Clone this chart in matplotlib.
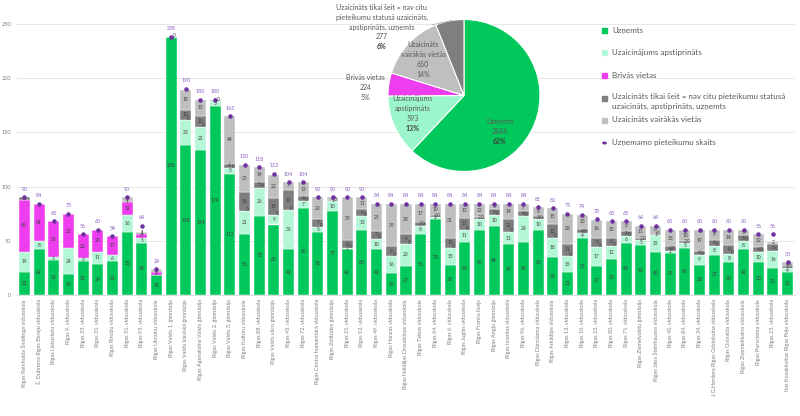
import matplotlib.pyplot as plt
import numpy as np

plt.rcParams['font.family'] = ['Lato', 'DejaVu Sans']

# ---------------- data ----------------
schools = [
    'Rīgas Reinholda Šmēlinga vidusskola', 'Š. Dubnova Rīgas Ebreju vidusskola',
    'Rīgas Lietuviešu vidusskola', 'Rīgas 9. vidusskola', 'Rīgas 33. vidusskola',
    'Rīgas 31. vidusskola', 'Rīgas Rīnūžu vidusskola', 'Rīgas 51. vidusskola',
    'Rīgas 95. vidusskola', 'Rīgas Ukraiņu vidusskola', 'Rīgas Valsts 1. ģimnāzija',
    'Rīgas Valsts klasiskā ģimnāzija', 'Rīgas Āgenskalna Valsts ģimnāzija',
    'Rīgas Valsts 2. ģimnāzija', 'Rīgas Valsts 3. ģimnāzija', 'Rīgas Kultūru vidusskola',
    'Rīgas 88. vidusskola', 'Rīgas Valsts vācu ģimnāzija', 'Rīgas 45. vidusskola',
    'Rīgas 72. vidusskola', 'Rīgas Centra humanitārā vidusskola', 'Rīgas Zolitūdes ģimnāzija',
    'Rīgas 21. vidusskola', 'Rīgas 92. vidusskola', 'Rīgas 49. vidusskola',
    'Rīgas Hanzas vidusskola', 'Rīgas Natālijas Draudziņas vidusskola',
    'Rīgas Teikas vidusskola', 'Rīgas 64. vidusskola', 'Rīgas 6. vidusskola',
    'Rīgas Juglas vidusskola', 'Rīgas Franču licejs', 'Rīgas Angļu ģimnāzija',
    'Rīgas Imantas vidusskola', 'Rīgas 96. vidusskola', 'Rīgas Dārzciema vidusskola',
    'Rīgas Arkādijas vidusskola', 'Rīgas 13. vidusskola', 'Rīgas 10. vidusskola',
    'Rīgas 22. vidusskola', 'Rīgas 80. vidusskola', 'Rīgas 71. vidusskola',
    'Rīgas Ziemeļvalstu ģimnāzija', 'Rīgas Jāņa Šteinhauera vidusskola',
    'Rīgas 40. vidusskola', 'Rīgas 84. vidusskola', 'Rīgas 34. vidusskola',
    'J.G.Herdera Rīgas Grīziņkalna vidusskola', 'Rīgas Ostvalda vidusskola',
    'Rīgas Ziepniekkalna vidusskola', 'Rīgas Purvciema vidusskola',
    'Rīgas 25. vidusskola', 'Itas Kozakēvičas Rīgas Poļu vidusskola',
]
uznemts = [21, 42, 32, 19, 31, 29, 31, 58, 48, 18, 238, 138, 134, 174, 112, 56, 73, 65,
           42, 80, 58, 77, 42, 60, 42, 20, 27, 56, 70, 28, 49, 60, 64, 47, 49, 60, 35,
           21, 53, 27, 33, 48, 46, 40, 39, 43, 28, 37, 30, 42, 30, 25, 21]
apstiprinats = [19, 8, 3, 24, 3, 11, 6, 16, 5, 0, 0, 23, 21, 5, 5, 21, 26, 9, 36, 7, 5,
                10, 1, 13, 10, 16, 20, 8, 2, 15, 11, 10, 10, 11, 24, 10, 18, 15, 4, 17,
                12, 6, 5, 15, 2, 5, 9, 8, 8, 8, 10, 16, 4]
brivas = [48, 34, 33, 32, 22, 20, 17, 12, 3, 3, 0, 0, 0, 0, 0, 0, 0, 0, 0, 0, 0, 0, 0,
          0, 0, 0, 0, 0, 0, 0, 0, 0, 0, 0, 0, 0, 0, 0, 0, 0, 0, 0, 0, 0, 0, 0, 0, 0, 0,
          0, 0, 0, 0]
tikai_seit = [2, 0, 0, 0, 0, 0, 0, 1, 1, 1, 0, 10, 10, 1, 4, 18, 5, 15, 19, 4, 7, 1, 8,
              6, 7, 9, 9, 3, 2, 10, 11, 2, 5, 12, 4, 3, 12, 11, 4, 9, 8, 5, 2, 1, 4, 2,
              4, 6, 8, 5, 4, 6, 2]
vairakas = [0, 0, 0, 0, 0, 0, 0, 3, 1, 2, 0, 18, 15, 0, 44, 25, 14, 22, 7, 13, 20, 2,
            39, 11, 25, 39, 28, 17, 10, 31, 13, 12, 5, 14, 7, 8, 15, 28, 13, 16, 15, 9,
            11, 8, 15, 10, 19, 9, 14, 5, 12, 2, 3]
skaits = [90, 84, 68, 75, 56, 60, 54, 90, 64, 24, 238, 190, 180, 180, 165, 120, 118,
          112, 104, 104, 90, 90, 90, 90, 84, 84, 84, 84, 84, 84, 84, 84, 84, 84, 84, 81,
          80, 75, 74, 70, 68, 68, 64, 64, 60, 60, 60, 60, 60, 60, 56, 56, 30]

series_names = ['Uzņemts', 'Uzaicinājums apstiprināts', 'Brīvās vietas',
                'Uzaicināts tikai šeit = nav citu pieteikumu statusā\nuzaicināts, apstiprināts, uzņemts',
                'Uzaicināts vairākās vietās']
marker_name = 'Uzņemamo pieteikumu skaits'

pie_labels = ['Uzņemts', 'Uzaicinājums\napstiprināts', 'Brīvās vietas',
              'Uzaicināts\nvairākās vietās',
              'Uzaicināts tikai šeit = nav citu\npieteikumu statusā uzaicināts,\napstiprināts, uzņemts']
pie_values = [2844, 593, 224, 650, 277]
pie_pct = ['62%', '13%', '5%', '14%', '6%']

green = '#00C85A'
mint = '#B4F7D6'
mint_pie = '#9CF6CC'
magenta = '#EE3DEE'
dgrey = '#7F7F7F'
lgrey = '#BFBFBF'
purple = '#7030A0'
txt = '#595959'

fig = plt.figure(figsize=(8, 4.16), dpi=100)

# ---------------- stacked bars ----------------
ax = fig.add_axes([17 / 800, 121 / 416, 778 / 800, 282 / 416])
x = np.arange(len(schools))
bottom = np.zeros(len(schools))
series = [(uznemts, green), (apstiprinats, mint), (brivas, magenta),
          (tikai_seit, dgrey), (vairakas, lgrey)]
for vals, col in series:
    vals = np.array(vals)
    ax.bar(x, vals, 0.75, bottom=bottom, color=col, edgecolor='white', linewidth=0.3, zorder=2)
    for xi, v, b in zip(x, vals, bottom):
        if v > 0:
            ax.text(xi, b + v / 2, str(v), ha='center', va='center', fontsize=3.5,
                    color='#404040', zorder=4)
    bottom = bottom + vals

# zero labels of the "Brīvās vietas" series
for xi, u, a, b in zip(x, uznemts, apstiprinats, brivas):
    if b == 0:
        ax.text(xi + 0.2, u + a + 1.5, '0', ha='center', va='center', fontsize=3.5,
                color='#404040', zorder=4)

ax.scatter(x, skaits, s=5, color=purple, zorder=5)
for xi, s in zip(x, skaits):
    ax.text(xi, s + 5, str(s), ha='center', va='bottom', fontsize=3.8, color='#8A5CC0')

ax.set_xlim(-0.5, len(schools) - 0.5)
ax.set_ylim(0, 260)
ax.set_yticks([0, 50, 100, 150, 200, 250])
ax.yaxis.grid(True, color='#E3E3E3', linewidth=0.6, zorder=0)
ax.set_axisbelow(True)
ax.set_xticks(x)
ax.set_xticklabels(schools, rotation=90, fontsize=4, color='#7F7F7F')
ax.tick_params(axis='y', labelsize=4, colors='#7F7F7F', length=0, pad=4)
ax.tick_params(axis='x', length=0, pad=3)
for side in ['top', 'right', 'left']:
    ax.spines[side].set_visible(False)
ax.spines['bottom'].set_color('#D9D9D9')
ax.spines['bottom'].set_linewidth(0.6)

# ---------------- pie ----------------
pax = fig.add_axes([(464 - 76) / 800, (416 - 95.5 - 76) / 416, 152 / 800, 152 / 416])
pax.pie(pie_values, colors=[green, mint_pie, magenta, lgrey, dgrey], startangle=90,
        counterclock=False, radius=1,
        wedgeprops=dict(edgecolor='white', linewidth=0.8))
pax.set_xlim(-1, 1)
pax.set_ylim(-1, 1)
pax.set_aspect('equal')
pax.axis('off')

label_pos = [(0.47, -0.47), (-0.68, -0.24), (-1.30, 0.11), (-0.54, 0.47), (-1.08, 0.90)]
bold_pct = [True, True, False, False, True]
line_h = 0.13
for lab, val, pct, (px, py), bold in zip(pie_labels, pie_values, pie_pct, label_pos, bold_pct):
    lines = lab.split('\n') + [str(val)]
    n = len(lines) + 1
    y0 = py + (n - 1) * line_h / 2
    for k, ln in enumerate(lines):
        pax.text(px, y0 - k * line_h, ln, ha='center', va='center', fontsize=5, color=txt)
    pax.text(px, y0 - (n - 1) * line_h, pct, ha='center', va='center', fontsize=5,
             color='#404040' if bold else txt, fontweight='bold' if bold else 'normal')
pax.plot([-0.42, -0.16], [0.93, 0.99], color='#A6A6A6', linewidth=0.5, clip_on=False)

# ---------------- legend ----------------
leg_y = [30, 52, 75, 98, 120, 143]
leg_cols = [green, mint, magenta, dgrey, lgrey]
for yy, name, col in zip(leg_y[:5], series_names, leg_cols):
    if '\n' in name:
        fig.text(612 / 800, 1 - (yy - 4.5) / 416, name, fontsize=5.8, color=txt,
                 va='top', linespacing=1.45)
    else:
        fig.text(612 / 800, 1 - yy / 416, name, fontsize=5.8, color=txt, va='center')
    fig.patches.append(plt.Rectangle((602 / 800, 1 - (yy + 2.5) / 416), 5 / 800, 5 / 416,
                                     transform=fig.transFigure, color=col))
yy = leg_y[5]
fig.text(612 / 800, 1 - yy / 416, marker_name, fontsize=5.8, color=txt, va='center')
fig.patches.append(plt.Circle((604.5 / 800, 1 - yy / 416), 1.6 / 800,
                              transform=fig.transFigure, color=purple))

fig.savefig('out.png', dpi=100)
